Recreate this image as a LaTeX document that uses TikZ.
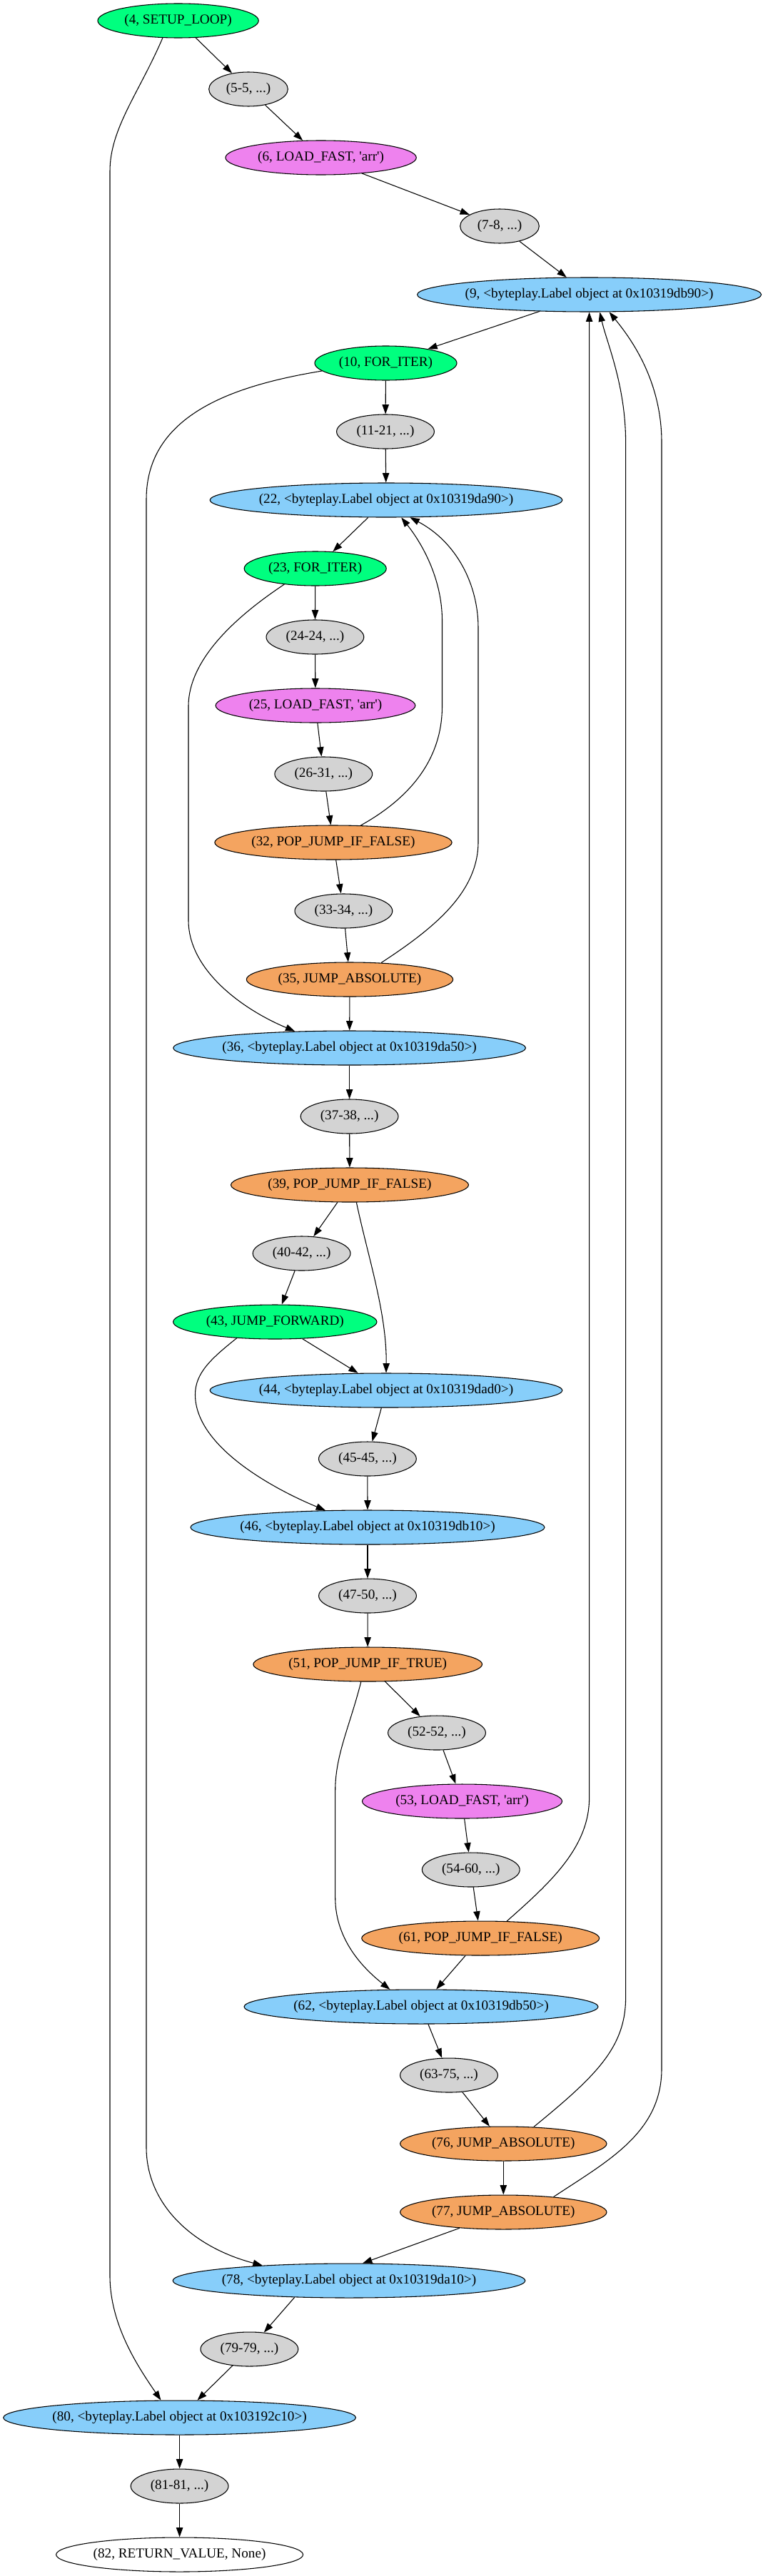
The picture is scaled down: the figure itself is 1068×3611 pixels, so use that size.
\documentclass[tikz,border=0pt]{standalone}
\usepackage{fontspec}
\setmainfont{Liberation Serif}
\usetikzlibrary{shapes.geometric,arrows.meta}
\newcommand{\nlab}[1]{\makebox[0pt]{#1}}
\definecolor{gvgreen}{HTML}{00FF7F}
\definecolor{gvgray}{HTML}{D3D3D3}
\definecolor{gvviolet}{HTML}{EE82EE}
\definecolor{gvblue}{HTML}{87CEFA}
\definecolor{gvorange}{HTML}{F4A460}
\tikzset{
  gv/.style={ellipse, draw, line width=0.8pt, inner sep=0pt, minimum height=36pt,
             font=\fontsize{14.4pt}{16pt}\selectfont},
  gvg/.style={gv, fill=gvgreen},
  gvy/.style={gv, fill=gvgray},
  gvv/.style={gv, fill=gvviolet},
  gvb/.style={gv, fill=gvblue},
  gvo/.style={gv, fill=gvorange},
  gvw/.style={gv, fill=white},
  ed/.style={draw, line width=0.8pt, -{Triangle[length=10pt,width=7pt]}}
}
\begin{document}
\begin{tikzpicture}[x=0.75pt,y=-0.75pt]
\useasboundingbox (0,0) rectangle (1068,3611);
\node[gvg, minimum width=169pt]   (n4)  at (249.6,29)   {\nlab{(4, SETUP\_LOOP)}};
\node[gvy, minimum width=83pt]    (n5)  at (348,125)    {\nlab{(5-5, ...)}};
\node[gvv, minimum width=200.5pt] (n6)  at (449.6,221)  {\nlab{(6, LOAD\_FAST, \textquotesingle arr\textquotesingle)}};
\node[gvy, minimum width=83pt]    (n7)  at (700,317)    {\nlab{(7-8, ...)}};
\node[gvb, minimum width=361.5pt] (n9)  at (825.6,413)  {\nlab{(9, <byteplay.Label object at 0x10319db90>)}};
\node[gvg, minimum width=149.3pt] (n10) at (540.5,509)  {\nlab{(10, FOR\_ITER)}};
\node[gvy, minimum width=102.6pt] (n11) at (540,605)    {\nlab{(11-21, ...)}};
\node[gvb, minimum width=370.3pt] (n22) at (541,701)    {\nlab{(22, <byteplay.Label object at 0x10319da90>)}};
\node[gvg, minimum width=149.3pt] (n23) at (441.7,797)  {\nlab{(23, FOR\_ITER)}};
\node[gvy, minimum width=102.6pt] (n24) at (441.4,893)  {\nlab{(24-24, ...)}};
\node[gvv, minimum width=209.8pt] (n25) at (442,989)    {\nlab{(25, LOAD\_FAST, \textquotesingle arr\textquotesingle)}};
\node[gvy, minimum width=102.6pt] (n26) at (453.3,1085) {\nlab{(26-31, ...)}};
\node[gvo, minimum width=249.2pt] (n32) at (467,1181)   {\nlab{(32, POP\_JUMP\_IF\_FALSE)}};
\node[gvy, minimum width=102.6pt] (n33) at (481.4,1277) {\nlab{(33-34, ...)}};
\node[gvo, minimum width=217pt]   (n35) at (490,1373)   {\nlab{(35, JUMP\_ABSOLUTE)}};
\node[gvb, minimum width=370.3pt] (n36) at (489.6,1469) {\nlab{(36, <byteplay.Label object at 0x10319da50>)}};
\node[gvy, minimum width=102.6pt] (n37) at (489.6,1565) {\nlab{(37-38, ...)}};
\node[gvo, minimum width=249.7pt] (n39) at (490,1661)   {\nlab{(39, POP\_JUMP\_IF\_FALSE)}};
\node[gvy, minimum width=102.6pt] (n40) at (422.6,1757) {\nlab{(40-42, ...)}};
\node[gvg, minimum width=214pt]   (n43) at (385.3,1853) {\nlab{(43, JUMP\_FORWARD)}};
\node[gvb, minimum width=370.3pt] (n44) at (541,1949)   {\nlab{(44, <byteplay.Label object at 0x10319dad0>)}};
\node[gvy, minimum width=102.6pt] (n45) at (514.9,2045) {\nlab{(45-45, ...)}};
\node[gvb, minimum width=372pt]   (n46) at (515,2141)   {\nlab{(46, <byteplay.Label object at 0x10319db10>)}};
\node[gvy, minimum width=102.6pt] (n47) at (515,2237)   {\nlab{(47-50, ...)}};
\node[gvo, minimum width=240.5pt] (n51) at (515.2,2333) {\nlab{(51, POP\_JUMP\_IF\_TRUE)}};
\node[gvy, minimum width=102.6pt] (n52) at (612,2429)   {\nlab{(52-52, ...)}};
\node[gvv, minimum width=210pt]   (n53) at (647.5,2525) {\nlab{(53, LOAD\_FAST, \textquotesingle arr\textquotesingle)}};
\node[gvy, minimum width=102.6pt] (n54) at (659.8,2621) {\nlab{(54-60, ...)}};
\node[gvo, minimum width=249.7pt] (n61) at (673.2,2717) {\nlab{(61, POP\_JUMP\_IF\_FALSE)}};
\node[gvb, minimum width=372pt]   (n62) at (590,2813)   {\nlab{(62, <byteplay.Label object at 0x10319db50>)}};
\node[gvy, minimum width=102.6pt] (n63) at (629,2909)   {\nlab{(63-75, ...)}};
\node[gvo, minimum width=217pt]   (n76) at (705.3,3005) {\nlab{(76, JUMP\_ABSOLUTE)}};
\node[gvo, minimum width=217pt]   (n77) at (705.3,3101) {\nlab{(77, JUMP\_ABSOLUTE)}};
\node[gvb, minimum width=370.3pt] (n78) at (489,3197)   {\nlab{(78, <byteplay.Label object at 0x10319da10>)}};
\node[gvy, minimum width=102.6pt] (n79) at (349.4,3293) {\nlab{(79-79, ...)}};
\node[gvb, minimum width=370.3pt] (n80) at (251.6,3389) {\nlab{(80, <byteplay.Label object at 0x103192c10>)}};
\node[gvy, minimum width=102.6pt] (n81) at (251.6,3485) {\nlab{(81-81, ...)}};
\node[gvw, minimum width=259.5pt] (n82) at (251.6,3581) {\nlab{(82, RETURN\_VALUE, None)}};
% straight edges
\path[ed] (n4) -- (n5);
\path[ed] (n5) -- (n6);
\path[ed] (n6) -- (n7);
\path[ed] (n7) -- (n9);
\path[ed] (n9) -- (n10);
\path[ed] (n10) -- (n11);
\path[ed] (n11) -- (n22);
\path[ed] (n22) -- (n23);
\path[ed] (n23) -- (n24);
\path[ed] (n24) -- (n25);
\path[ed] (n25) -- (n26);
\path[ed] (n26) -- (n32);
\path[ed] (n32) -- (n33);
\path[ed] (n33) -- (n35);
\path[ed] (n35) -- (n36);
\path[ed] (n36) -- (n37);
\path[ed] (n37) -- (n39);
\path[ed] (n39) -- (n40);
\path[ed] (n40) -- (n43);
\path[ed] (n43) -- (n44);
\path[ed] (n44) -- (n45);
\path[ed] (n45) -- (n46);
\path[ed] (n46) -- (n47);
\path[ed] (n47) -- (n51);
\path[ed] (n51) -- (n52);
\path[ed] (n52) -- (n53);
\path[ed] (n53) -- (n54);
\path[ed] (n54) -- (n61);
\path[ed] (n61) -- (n62);
\path[ed] (n62) -- (n63);
\path[ed] (n63) -- (n76);
\path[ed] (n76) -- (n77);
\path[ed] (n77) -- (n78.52);
\path[ed] (n78.197) -- (n79);
\path[ed] (n79) -- (n80);
\path[ed] (n80) -- (n81);
\path[ed] (n81) -- (n82);
% curved edges
\path[ed] (n4.228) .. controls (195,130) and (154,180) .. (154,240) -- (154,3190) .. controls (154,3260) and (195,3320) .. (n80.137);
\path[ed] (n10.187) .. controls (330,540) and (205,580) .. (205,700) -- (205,3010) .. controls (205,3090) and (270,3150) .. (n78.170);
\path[ed] (n23.207) .. controls (340,858) and (264,920) .. (264,990) -- (264,1290) .. controls (264,1360) and (340,1415) .. (n36.163);
\path[ed] (n32.32) .. controls (590,1110) and (619.5,1050) .. (619.5,990) -- (619.5,870) .. controls (619.5,810) and (590,760) .. (n22.-49);
\path[ed] (n35.28) .. controls (610,1300) and (670,1250) .. (670,1180) -- (670,880) .. controls (670,820) and (640,760) .. (n22.-36);
\path[ed] (n39.-69) .. controls (515,1760) and (542,1840) .. (n44.north);
\path[ed] (n43.203) .. controls (295,1905) and (273.5,1925) .. (273.5,1955) .. controls (273.5,2030) and (390,2090) .. (n46.158);
\path[ed] (n51.249) .. controls (490,2420) and (469.7,2460) .. (469.7,2510) -- (469.7,2660) .. controls (469.7,2720) and (510,2760) .. (n62.151);
\path[ed] (n61.33) .. controls (770,2640) and (825.6,2590) .. (825.6,2520) -- (n9.south);
\path[ed] (n76.29) .. controls (835,2910) and (876.6,2870) .. (876.6,2800) -- (876.6,620) .. controls (876.6,540) and (850,480) .. (n9.-59);
\path[ed] (n77.17) .. controls (850,3030) and (927,2990) .. (927,2900) -- (927,620) .. controls (927,530) and (880,470) .. (n9.-41);
\end{tikzpicture}
\end{document}
